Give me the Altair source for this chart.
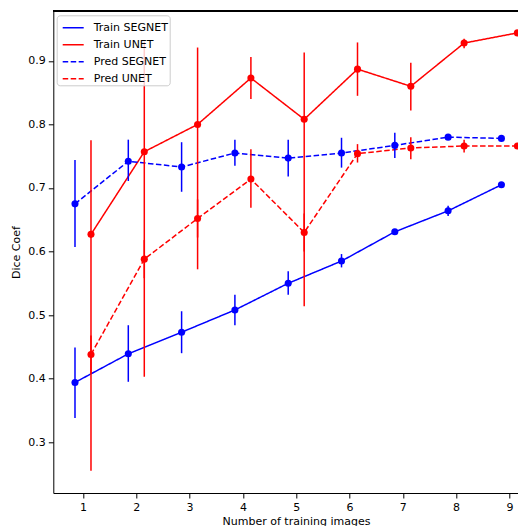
import altair as alt
import pandas as pd

xs = [1, 2, 3, 4, 5, 6, 7, 8, 9]
series_names = ["Train SEGNET", "Train UNET", "Pred SEGNET", "Pred UNET"]
offsets = [-0.15, 0.15, -0.15, 0.15]

train_segnet = [0.394, 0.439, 0.473, 0.508, 0.550, 0.585, 0.631, 0.664, 0.705]
train_segnet_lo = [0.338, 0.395, 0.440, 0.484, 0.532, 0.575, 0.627, 0.656, 0.702]
train_segnet_hi = [0.449, 0.484, 0.506, 0.532, 0.569, 0.596, 0.635, 0.672, 0.708]

train_unet = [0.627, 0.757, 0.800, 0.873, 0.808, 0.887, 0.860, 0.928, 0.944]
train_unet_lo = [0.255, 0.403, 0.572, 0.840, 0.514, 0.845, 0.822, 0.920, 0.942]
train_unet_hi = [0.775, 0.930, 0.921, 0.906, 0.913, 0.929, 0.897, 0.935, 0.946]

pred_segnet = [0.675, 0.742, 0.733, 0.755, 0.747, 0.755, 0.767, 0.780, 0.778]
pred_segnet_lo = [0.607, 0.711, 0.694, 0.735, 0.718, 0.732, 0.747, 0.777, 0.775]
pred_segnet_hi = [0.744, 0.776, 0.772, 0.776, 0.776, 0.779, 0.787, 0.783, 0.781]

pred_unet = [0.438, 0.588, 0.652, 0.714, 0.630, 0.754, 0.763, 0.766, 0.766]
pred_unet_lo = [0.408, 0.558, 0.622, 0.669, 0.600, 0.740, 0.745, 0.756, 0.763]
pred_unet_hi = [0.468, 0.618, 0.682, 0.761, 0.660, 0.769, 0.780, 0.776, 0.769]

colors = ["#0000ff", "#ff0000", "#0000ff", "#ff0000"]
dashes = [[1, 0], [1, 0], [5.5, 2.5], [5.5, 2.5]]

rows = []
for name, off, ys, lo, hi in zip(
    series_names, offsets,
    [train_segnet, train_unet, pred_segnet, pred_unet],
    [train_segnet_lo, train_unet_lo, pred_segnet_lo, pred_unet_lo],
    [train_segnet_hi, train_unet_hi, pred_segnet_hi, pred_unet_hi],
):
    for i, x in enumerate(xs):
        rows.append({"series": name, "x": x + off, "y": ys[i], "lo": lo[i], "hi": hi[i]})
df = pd.DataFrame(rows)

xscale = alt.Scale(domain=[0.443, 9.161], nice=False, zero=False)
yscale = alt.Scale(domain=[0.220, 0.978], nice=False, zero=False)
cscale = alt.Scale(domain=series_names, range=colors)
dscale = alt.Scale(domain=series_names, range=dashes)

xaxis = alt.Axis(values=xs, title="Number of training images", grid=False,
                 tickSize=5, labelPadding=3, titlePadding=3, titleX=242.7,
                 format="d")
yaxis = alt.Axis(values=[0.3, 0.4, 0.5, 0.6, 0.7, 0.8, 0.9], title="Dice Coef",
                 grid=False, tickSize=5, labelPadding=3, titlePadding=6,
                 format=".1f")


def make_legend():
    return alt.Legend(title=None, orient="none", legendX=3.4, legendY=4,
                      symbolType="stroke", symbolSize=441, symbolOffset=4,
                      symbolStrokeWidth=1.5, labelFontSize=11,
                      labelFont="DejaVu Sans", labelColor="black",
                      labelOffset=9, rowPadding=-5, padding=1,
                      fillColor="rgba(255,255,255,0.8)",
                      strokeColor="#cccccc", cornerRadius=3)


base = alt.Chart(df)

lines = base.mark_line(strokeWidth=1.5).encode(
    x=alt.X("x:Q", scale=xscale, axis=xaxis),
    y=alt.Y("y:Q", scale=yscale, axis=yaxis),
    color=alt.Color("series:N", scale=cscale, sort=series_names, legend=make_legend()),
    strokeDash=alt.StrokeDash("series:N", scale=dscale, sort=series_names, legend=make_legend()),
    detail="series:N",
    order="x:Q",
)

bars = base.mark_rule(strokeWidth=1.5).encode(
    x=alt.X("x:Q", scale=xscale),
    y=alt.Y("lo:Q", scale=yscale),
    y2="hi:Q",
    color=alt.Color("series:N", scale=cscale, legend=None),
)

points = base.mark_circle(size=50, opacity=1).encode(
    x=alt.X("x:Q", scale=xscale),
    y=alt.Y("y:Q", scale=yscale),
    color=alt.Color("series:N", scale=cscale, legend=None),
)

topspine = alt.Chart(df).mark_rule(color="black", strokeWidth=1).encode(
    x=alt.value(0), x2=alt.value(464.7), y=alt.value(0)
)

chart = alt.layer(lines, bars, points, topspine).properties(
    width=464.7, height=481.7,
    autosize=alt.AutoSizeParams(type="none"),
    padding={"left": 45.3, "top": 3.3, "right": 0, "bottom": 33},
).configure_view(stroke=None).configure_axis(
    domainColor="black", tickColor="black", labelColor="black", titleColor="black",
    labelFont="DejaVu Sans", titleFont="DejaVu Sans", labelFontSize=11,
    titleFontSize=11, titleFontWeight="normal", domainWidth=1, tickWidth=1,
)

chart.save("out.html", embed_options={"renderer": "svg", "actions": False})
